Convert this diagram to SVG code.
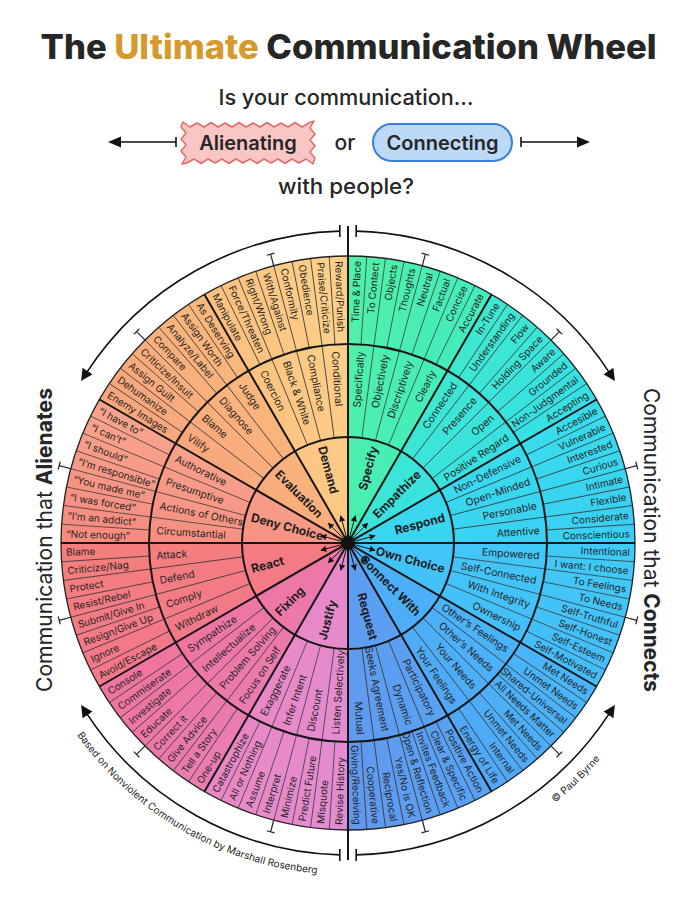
<svg xmlns="http://www.w3.org/2000/svg" width="697" height="900" viewBox="0 0 697 900">
<style>
text{font-family:Inter,"Liberation Sans",Arial,sans-serif;fill:#262626}
.o{font-size:10px}
.m{font-size:10.3px}
.i{font-size:12px;font-weight:700;fill:#1e1e1e}
.e{text-anchor:end}
.sep{stroke:#3a3a3a;stroke-width:0.8;fill:none}
.thick{stroke:#161616;stroke-width:2;fill:none}
.arc{stroke:#111;stroke-width:1.6;fill:none}
.tk{stroke:#222;stroke-width:1.2;fill:none}
.hd{font-size:21px}
</style>
<defs>
<path id="wedge" d="M0,0 L287,0 A287,287 0 0 1 248.55,143.5 Z"/>
<path id="seps" d="M198.57,13.02L286.39,18.77M197.30,25.97L284.54,37.46M195.18,38.82L281.49,55.99M192.22,51.51L277.22,74.28M188.44,63.97L271.77,92.25M183.85,76.15L265.15,109.83M178.48,88.02L257.40,126.94M105.09,13.84L197.30,25.97M102.39,27.43L192.22,51.51M97.93,40.56L183.85,76.15"/>
<path id="tick" d="M287,0H299M299,-4V4"/>
<linearGradient id="gSpe" gradientUnits="userSpaceOnUse" x1="200" y1="0" x2="173.2" y2="100"><stop offset="0" stop-color="#4FF0A8"/><stop offset="1" stop-color="#45ECBC"/></linearGradient>
<linearGradient id="gEmp" gradientUnits="userSpaceOnUse" x1="200" y1="0" x2="173.2" y2="100"><stop offset="0" stop-color="#3EE8D0"/><stop offset="1" stop-color="#36E0E4"/></linearGradient>
<linearGradient id="gRes" gradientUnits="userSpaceOnUse" x1="200" y1="0" x2="173.2" y2="100"><stop offset="0" stop-color="#38DCEC"/><stop offset="1" stop-color="#3ACFF4"/></linearGradient>
<linearGradient id="gOwn" gradientUnits="userSpaceOnUse" x1="200" y1="0" x2="173.2" y2="100"><stop offset="0" stop-color="#40CAF8"/><stop offset="1" stop-color="#45BDF9"/></linearGradient>
<linearGradient id="gCon" gradientUnits="userSpaceOnUse" x1="200" y1="0" x2="173.2" y2="100"><stop offset="0" stop-color="#49B5F9"/><stop offset="1" stop-color="#50A8F6"/></linearGradient>
<linearGradient id="gReq" gradientUnits="userSpaceOnUse" x1="200" y1="0" x2="173.2" y2="100"><stop offset="0" stop-color="#58A2F4"/><stop offset="1" stop-color="#6199EF"/></linearGradient>
<linearGradient id="gJus" gradientUnits="userSpaceOnUse" x1="200" y1="0" x2="173.2" y2="100"><stop offset="0" stop-color="#E48CD2"/><stop offset="1" stop-color="#E987C4"/></linearGradient>
<linearGradient id="gFix" gradientUnits="userSpaceOnUse" x1="200" y1="0" x2="173.2" y2="100"><stop offset="0" stop-color="#EA7CB0"/><stop offset="1" stop-color="#EF74A0"/></linearGradient>
<linearGradient id="gRea" gradientUnits="userSpaceOnUse" x1="200" y1="0" x2="173.2" y2="100"><stop offset="0" stop-color="#F3788A"/><stop offset="1" stop-color="#F57E7C"/></linearGradient>
<linearGradient id="gDen" gradientUnits="userSpaceOnUse" x1="200" y1="0" x2="173.2" y2="100"><stop offset="0" stop-color="#F68C80"/><stop offset="1" stop-color="#F8A28B"/></linearGradient>
<linearGradient id="gEva" gradientUnits="userSpaceOnUse" x1="200" y1="0" x2="173.2" y2="100"><stop offset="0" stop-color="#F8A67C"/><stop offset="1" stop-color="#FAB87D"/></linearGradient>
<linearGradient id="gDem" gradientUnits="userSpaceOnUse" x1="200" y1="0" x2="173.2" y2="100"><stop offset="0" stop-color="#FBC27F"/><stop offset="1" stop-color="#FDD08A"/></linearGradient>
<marker id="ah" viewBox="0 0 10 10" refX="2" refY="5" markerWidth="12" markerHeight="12" markerUnits="userSpaceOnUse" orient="auto"><path d="M0,0 L10,5 L0,10 z" fill="#111"/></marker>
<marker id="hub" viewBox="0 0 10 10" refX="9" refY="5" markerWidth="6" markerHeight="6" markerUnits="userSpaceOnUse" orient="auto"><path d="M0,0 L10,5 L0,10 z" fill="#111"/></marker>
</defs>
<rect width="697" height="900" fill="#fff"/>

<g id="header">
<text x="348.5" y="59" text-anchor="middle" font-size="34" font-weight="800" textLength="616" lengthAdjust="spacingAndGlyphs" fill="#111">The <tspan fill="#D49A2E">Ultimate</tspan> Communication Wheel</text>
<text class="hd" x="346" y="105" text-anchor="middle" textLength="255" lengthAdjust="spacingAndGlyphs" font-weight="500" fill="#111">Is your communication…</text>
<text class="hd" x="346" y="194" text-anchor="middle" textLength="136" lengthAdjust="spacingAndGlyphs" font-weight="500" fill="#111">with people?</text>
</g>

<g id="alienating">
<polygon points="183,122 190,127 197,123 204,127 211,122.5 218,127 225,123 232,127 239,122.5 246,127 253,123 260,127 267,122.5 274,127 281,123 288,127 295,122.5 302,127 309,123 314,121 310,128 315,134 310,140 315,146 310,152 315,158 313,164 306,159 299,163 292,159 285,163.5 278,159 271,163 264,159 257,163.5 250,159 243,163 236,159 229,163.5 222,159 215,163 208,159 201,163.5 194,159 187,163 182,164 186,157 181,151 186,145 181,139 186,133 181,127" fill="#F9C5C5" stroke="#E46A6A" stroke-width="1.5" stroke-linejoin="round"/>
<text x="248" y="150" text-anchor="middle" font-size="20" font-weight="600" fill="#111">Alienating</text>
</g>
<g id="or"><text class="hd" x="345" y="150" text-anchor="middle" font-weight="500" fill="#111">or</text></g>
<g id="connecting">
<rect x="373" y="124" width="139" height="37" rx="18.5" fill="#BDD9F8" stroke="#3E80D8" stroke-width="2"/>
<text x="442.5" y="150" text-anchor="middle" font-size="20" font-weight="600" fill="#111">Connecting</text>
</g>

<g id="n-specify" transform="translate(348,543)">
<use href="#wedge" fill="url(#gSpe)" transform="rotate(-90)"/>
<use href="#seps" class="sep" transform="rotate(-90)"/>
<text class="o e" transform="rotate(-88.125)" x="282" y="3.6">Time &amp; Place</text>
<text class="o e" transform="rotate(-84.375)" x="282" y="3.6">To Contect</text>
<text class="o e" transform="rotate(-80.625)" x="282" y="3.6">Objects</text>
<text class="o e" transform="rotate(-76.875)" x="282" y="3.6">Thoughts</text>
<text class="o e" transform="rotate(-73.125)" x="282" y="3.6">Neutral</text>
<text class="o e" transform="rotate(-69.375)" x="282" y="3.6">Factual</text>
<text class="o e" transform="rotate(-65.625)" x="282" y="3.6">Concise</text>
<text class="o e" transform="rotate(-61.875)" x="282" y="3.6">Accurate</text>
<text class="m e" transform="rotate(-86.25)" x="192" y="3.7">Specifically</text>
<text class="m e" transform="rotate(-78.75)" x="192" y="3.7">Objectively</text>
<text class="m e" transform="rotate(-71.25)" x="192" y="3.7">Discriptively</text>
<text class="m e" transform="rotate(-63.75)" x="192" y="3.7">Clearly</text>
<text class="i e" transform="rotate(-75)" x="100" y="4.3">Specify</text>
</g>

<g id="n-empathize" transform="translate(348,543)">
<use href="#wedge" fill="url(#gEmp)" transform="rotate(-60)"/>
<use href="#seps" class="sep" transform="rotate(-60)"/>
<text class="o e" transform="rotate(-58.125)" x="282" y="3.6">In-Tune</text>
<text class="o e" transform="rotate(-54.375)" x="282" y="3.6">Understanding</text>
<text class="o e" transform="rotate(-50.625)" x="282" y="3.6">Flow</text>
<text class="o e" transform="rotate(-46.875)" x="282" y="3.6">Holding Space</text>
<text class="o e" transform="rotate(-43.125)" x="282" y="3.6">Aware</text>
<text class="o e" transform="rotate(-39.375)" x="282" y="3.6">Grounded</text>
<text class="o e" transform="rotate(-35.625)" x="282" y="3.6">Non-Judgmental</text>
<text class="o e" transform="rotate(-31.875)" x="282" y="3.6">Accepting</text>
<text class="m e" transform="rotate(-56.25)" x="192" y="3.7">Connected</text>
<text class="m e" transform="rotate(-48.75)" x="192" y="3.7">Presence</text>
<text class="m e" transform="rotate(-41.25)" x="192" y="3.7">Open</text>
<text class="m e" transform="rotate(-33.75)" x="192" y="3.7">Positive Regard</text>
<text class="i e" transform="rotate(-45)" x="100" y="4.3">Empathize</text>
</g>

<g id="n-respond" transform="translate(348,543)">
<use href="#wedge" fill="url(#gRes)" transform="rotate(-30)"/>
<use href="#seps" class="sep" transform="rotate(-30)"/>
<text class="o e" transform="rotate(-28.125)" x="282" y="3.6">Accesible</text>
<text class="o e" transform="rotate(-24.375)" x="282" y="3.6">Vulnerable</text>
<text class="o e" transform="rotate(-20.625)" x="282" y="3.6">Interested</text>
<text class="o e" transform="rotate(-16.875)" x="282" y="3.6">Curious</text>
<text class="o e" transform="rotate(-13.125)" x="282" y="3.6">Intimate</text>
<text class="o e" transform="rotate(-9.375)" x="282" y="3.6">Flexible</text>
<text class="o e" transform="rotate(-5.625)" x="282" y="3.6">Considerate</text>
<text class="o e" transform="rotate(-1.875)" x="282" y="3.6">Conscientious</text>
<text class="m e" transform="rotate(-26.25)" x="192" y="3.7">Non-Defensive</text>
<text class="m e" transform="rotate(-18.75)" x="192" y="3.7">Open-Minded</text>
<text class="m e" transform="rotate(-11.25)" x="192" y="3.7">Personable</text>
<text class="m e" transform="rotate(-3.75)" x="192" y="3.7">Attentive</text>
<text class="i e" transform="rotate(-15)" x="100" y="4.3">Respond</text>
</g>

<g id="n-own-choice" transform="translate(348,543)">
<use href="#wedge" fill="url(#gOwn)"/>
<use href="#seps" class="sep"/>
<text class="o e" transform="rotate(1.875)" x="282" y="3.6">Intentional</text>
<text class="o e" transform="rotate(5.625)" x="282" y="3.6">I want: I choose</text>
<text class="o e" transform="rotate(9.375)" x="282" y="3.6">To Feelings</text>
<text class="o e" transform="rotate(13.125)" x="282" y="3.6">To Needs</text>
<text class="o e" transform="rotate(16.875)" x="282" y="3.6">Self-Truthful</text>
<text class="o e" transform="rotate(20.625)" x="282" y="3.6">Self-Honest</text>
<text class="o e" transform="rotate(24.375)" x="282" y="3.6">Self-Esteem</text>
<text class="o e" transform="rotate(28.125)" x="282" y="3.6">Self-Motivated</text>
<text class="m e" transform="rotate(3.75)" x="192" y="3.7">Empowered</text>
<text class="m e" transform="rotate(11.25)" x="192" y="3.7">Self-Connected</text>
<text class="m e" transform="rotate(18.75)" x="192" y="3.7">With Integrity</text>
<text class="m e" transform="rotate(26.25)" x="192" y="3.7">Ownership</text>
<text class="i e" transform="rotate(15)" x="100" y="4.3">Own Choice</text>
</g>

<g id="n-connect-with" transform="translate(348,543)">
<use href="#wedge" fill="url(#gCon)" transform="rotate(30)"/>
<use href="#seps" class="sep" transform="rotate(30)"/>
<text class="o e" transform="rotate(31.875)" x="282" y="3.6">Met Needs</text>
<text class="o e" transform="rotate(35.625)" x="282" y="3.6">Unmet Needs</text>
<text class="o e" transform="rotate(39.375)" x="282" y="3.6">Shared-Universal</text>
<text class="o e" transform="rotate(43.125)" x="282" y="3.6">All Needs Matter</text>
<text class="o e" transform="rotate(46.875)" x="282" y="3.6">Met Needs</text>
<text class="o e" transform="rotate(50.625)" x="282" y="3.6">Unmet Needs</text>
<text class="o e" transform="rotate(54.375)" x="282" y="3.6">Internal</text>
<text class="o e" transform="rotate(58.125)" x="282" y="3.6">Energy of Life</text>
<text class="m e" transform="rotate(33.75)" x="192" y="3.7">Other’s Feelings</text>
<text class="m e" transform="rotate(41.25)" x="192" y="3.7">Other’s Needs</text>
<text class="m e" transform="rotate(48.75)" x="192" y="3.7">Your Needs</text>
<text class="m e" transform="rotate(56.25)" x="192" y="3.7">Your Feelings</text>
<text class="i e" transform="rotate(45)" x="100" y="4.3">Connect With</text>
</g>

<g id="n-request" transform="translate(348,543)">
<use href="#wedge" fill="url(#gReq)" transform="rotate(60)"/>
<use href="#seps" class="sep" transform="rotate(60)"/>
<text class="o e" transform="rotate(61.875)" x="282" y="3.6">Positive Action</text>
<text class="o e" transform="rotate(65.625)" x="282" y="3.6">Clear &amp; Specific</text>
<text class="o e" transform="rotate(69.375)" x="282" y="3.6">Invites Feedback</text>
<text class="o e" transform="rotate(73.125)" x="282" y="3.6">Open &amp; Reflection</text>
<text class="o e" transform="rotate(76.875)" x="282" y="3.6">Yes/No is OK</text>
<text class="o e" transform="rotate(80.625)" x="282" y="3.6">Reciprocal</text>
<text class="o e" transform="rotate(84.375)" x="282" y="3.6">Cooperative</text>
<text class="o e" transform="rotate(88.125)" x="282" y="3.6">Giving/Receiving</text>
<text class="m e" transform="rotate(63.75)" x="192" y="3.7">Participatory</text>
<text class="m e" transform="rotate(71.25)" x="192" y="3.7">Dynamic</text>
<text class="m e" transform="rotate(78.75)" x="192" y="3.7">Seeks Agreement</text>
<text class="m e" transform="rotate(86.25)" x="192" y="3.7">Mutual</text>
<text class="i e" transform="rotate(75)" x="100" y="4.3">Request</text>
</g>

<g id="n-justify" transform="translate(348,543)">
<use href="#wedge" fill="url(#gJus)" transform="rotate(90)"/>
<use href="#seps" class="sep" transform="rotate(90)"/>
<text class="o" transform="rotate(-61.875)" x="-282" y="3.6">Catastrophize</text>
<text class="o" transform="rotate(-65.625)" x="-282" y="3.6">All or Nothing</text>
<text class="o" transform="rotate(-69.375)" x="-282" y="3.6">Assume</text>
<text class="o" transform="rotate(-73.125)" x="-282" y="3.6">Interpret</text>
<text class="o" transform="rotate(-76.875)" x="-282" y="3.6">Minimize</text>
<text class="o" transform="rotate(-80.625)" x="-282" y="3.6">Predict Future</text>
<text class="o" transform="rotate(-84.375)" x="-282" y="3.6">Misquote</text>
<text class="o" transform="rotate(-88.125)" x="-282" y="3.6">Revise History</text>
<text class="m" transform="rotate(-63.75)" x="-192" y="3.7">Exaggerate</text>
<text class="m" transform="rotate(-71.25)" x="-192" y="3.7">Infer Intent</text>
<text class="m" transform="rotate(-78.75)" x="-192" y="3.7">Discount</text>
<text class="m" transform="rotate(-86.25)" x="-192" y="3.7">Listen Selectively</text>
<text class="i" transform="rotate(-75)" x="-100" y="4.3">Justify</text>
</g>

<g id="n-fixing" transform="translate(348,543)">
<use href="#wedge" fill="url(#gFix)" transform="rotate(120)"/>
<use href="#seps" class="sep" transform="rotate(120)"/>
<text class="o" transform="rotate(-31.875)" x="-282" y="3.6">Console</text>
<text class="o" transform="rotate(-35.625)" x="-282" y="3.6">Commiserate</text>
<text class="o" transform="rotate(-39.375)" x="-282" y="3.6">Investigate</text>
<text class="o" transform="rotate(-43.125)" x="-282" y="3.6">Educate</text>
<text class="o" transform="rotate(-46.875)" x="-282" y="3.6">Correct it</text>
<text class="o" transform="rotate(-50.625)" x="-282" y="3.6">Give Advice</text>
<text class="o" transform="rotate(-54.375)" x="-282" y="3.6">Tell a Story</text>
<text class="o" transform="rotate(-58.125)" x="-282" y="3.6">One-up</text>
<text class="m" transform="rotate(-33.75)" x="-192" y="3.7">Sympathize</text>
<text class="m" transform="rotate(-41.25)" x="-192" y="3.7">Intellectualize</text>
<text class="m" transform="rotate(-48.75)" x="-192" y="3.7">Problem Solving</text>
<text class="m" transform="rotate(-56.25)" x="-192" y="3.7">Focus on Self</text>
<text class="i" transform="rotate(-45)" x="-100" y="4.3">Fixing</text>
</g>

<g id="n-react" transform="translate(348,543)">
<use href="#wedge" fill="url(#gRea)" transform="rotate(150)"/>
<use href="#seps" class="sep" transform="rotate(150)"/>
<text class="o" transform="rotate(-1.875)" x="-282" y="3.6">Blame</text>
<text class="o" transform="rotate(-5.625)" x="-282" y="3.6">Criticize/Nag</text>
<text class="o" transform="rotate(-9.375)" x="-282" y="3.6">Protect</text>
<text class="o" transform="rotate(-13.125)" x="-282" y="3.6">Resist/Rebel</text>
<text class="o" transform="rotate(-16.875)" x="-282" y="3.6">Submit/Give In</text>
<text class="o" transform="rotate(-20.625)" x="-282" y="3.6">Resign/Give Up</text>
<text class="o" transform="rotate(-24.375)" x="-282" y="3.6">Ignore</text>
<text class="o" transform="rotate(-28.125)" x="-282" y="3.6">Avoid/Escape</text>
<text class="m" transform="rotate(-3.75)" x="-192" y="3.7">Attack</text>
<text class="m" transform="rotate(-11.25)" x="-192" y="3.7">Defend</text>
<text class="m" transform="rotate(-18.75)" x="-192" y="3.7">Comply</text>
<text class="m" transform="rotate(-26.25)" x="-192" y="3.7">Withdraw</text>
<text class="i" transform="rotate(-15)" x="-100" y="4.3">React</text>
</g>

<g id="n-deny-choice" transform="translate(348,543)">
<use href="#wedge" fill="url(#gDen)" transform="rotate(180)"/>
<use href="#seps" class="sep" transform="rotate(180)"/>
<text class="o" transform="rotate(28.125)" x="-282" y="3.6">“I have to”</text>
<text class="o" transform="rotate(24.375)" x="-282" y="3.6">“I can’t”</text>
<text class="o" transform="rotate(20.625)" x="-282" y="3.6">“I should”</text>
<text class="o" transform="rotate(16.875)" x="-282" y="3.6">“I’m responsible”</text>
<text class="o" transform="rotate(13.125)" x="-282" y="3.6">“You made me”</text>
<text class="o" transform="rotate(9.375)" x="-282" y="3.6">“I was forced”</text>
<text class="o" transform="rotate(5.625)" x="-282" y="3.6">“I’m an addict”</text>
<text class="o" transform="rotate(1.875)" x="-282" y="3.6">“Not enough”</text>
<text class="m" transform="rotate(26.25)" x="-192" y="3.7">Authorative</text>
<text class="m" transform="rotate(18.75)" x="-192" y="3.7">Presumptive</text>
<text class="m" transform="rotate(11.25)" x="-192" y="3.7">Actions of Others</text>
<text class="m" transform="rotate(3.75)" x="-192" y="3.7">Circumstantial</text>
<text class="i" transform="rotate(15)" x="-100" y="4.3">Deny Choice</text>
</g>

<g id="n-evaluation" transform="translate(348,543)">
<use href="#wedge" fill="url(#gEva)" transform="rotate(210)"/>
<use href="#seps" class="sep" transform="rotate(210)"/>
<text class="o" transform="rotate(58.125)" x="-282" y="3.6">As Deserving</text>
<text class="o" transform="rotate(54.375)" x="-282" y="3.6">Assign Worth</text>
<text class="o" transform="rotate(50.625)" x="-282" y="3.6">Analyze/Label</text>
<text class="o" transform="rotate(46.875)" x="-282" y="3.6">Compare</text>
<text class="o" transform="rotate(43.125)" x="-282" y="3.6">Criticize/Insult</text>
<text class="o" transform="rotate(39.375)" x="-282" y="3.6">Assign Guilt</text>
<text class="o" transform="rotate(35.625)" x="-282" y="3.6">Dehumanize</text>
<text class="o" transform="rotate(31.875)" x="-282" y="3.6">Enemy Images</text>
<text class="m" transform="rotate(56.25)" x="-192" y="3.7">Judge</text>
<text class="m" transform="rotate(48.75)" x="-192" y="3.7">Diagnose</text>
<text class="m" transform="rotate(41.25)" x="-192" y="3.7">Blame</text>
<text class="m" transform="rotate(33.75)" x="-192" y="3.7">Vilify</text>
<text class="i" transform="rotate(45)" x="-100" y="4.3">Evaluation</text>
</g>

<g id="n-demand" transform="translate(348,543)">
<use href="#wedge" fill="url(#gDem)" transform="rotate(240)"/>
<use href="#seps" class="sep" transform="rotate(240)"/>
<text class="o" transform="rotate(88.125)" x="-282" y="3.6">Reward/Punish</text>
<text class="o" transform="rotate(84.375)" x="-282" y="3.6">Praise/Criticize</text>
<text class="o" transform="rotate(80.625)" x="-282" y="3.6">Obedience</text>
<text class="o" transform="rotate(76.875)" x="-282" y="3.6">Conformity</text>
<text class="o" transform="rotate(73.125)" x="-282" y="3.6">With/Against</text>
<text class="o" transform="rotate(69.375)" x="-282" y="3.6">Right/Wrong</text>
<text class="o" transform="rotate(65.625)" x="-282" y="3.6">Force/Threaten</text>
<text class="o" transform="rotate(61.875)" x="-282" y="3.6">Manipulate</text>
<text class="m" transform="rotate(86.25)" x="-192" y="3.7">Conditional</text>
<text class="m" transform="rotate(78.75)" x="-192" y="3.7">Compliance</text>
<text class="m" transform="rotate(71.25)" x="-192" y="3.7">Black &amp; White</text>
<text class="m" transform="rotate(63.75)" x="-192" y="3.7">Coercion</text>
<text class="i" transform="rotate(75)" x="-100" y="4.3">Demand</text>
</g>

<g id="wheel-lines" transform="translate(348,543)">
<circle r="287" fill="none" stroke="#222" stroke-width="1.3"/>
<circle r="199" class="thick"/>
<circle r="106" class="thick"/>
<line x1="-287" y1="0" x2="287" y2="0" class="thick"/>
<line x1="-287" y1="0" x2="287" y2="0" class="thick" transform="rotate(30)"/>
<line x1="-287" y1="0" x2="287" y2="0" class="thick" transform="rotate(60)"/>
<line x1="-287" y1="0" x2="287" y2="0" class="thick" transform="rotate(120)"/>
<line x1="-287" y1="0" x2="287" y2="0" class="thick" transform="rotate(150)"/>
<line x1="0" y1="-317" x2="0" y2="317" class="thick"/>
<g class="tk">
<use href="#tick" transform="rotate(-75)"/><use href="#tick" transform="rotate(-45)"/><use href="#tick" transform="rotate(-15)"/>
<use href="#tick" transform="rotate(15)"/><use href="#tick" transform="rotate(45)"/><use href="#tick" transform="rotate(75)"/>
<use href="#tick" transform="rotate(105)"/><use href="#tick" transform="rotate(135)"/><use href="#tick" transform="rotate(165)"/>
<use href="#tick" transform="rotate(195)"/><use href="#tick" transform="rotate(225)"/><use href="#tick" transform="rotate(255)"/>
</g>
<g stroke="#111" stroke-width="0.9" marker-end="url(#hub)">
<line x1="6" y1="0" x2="28" y2="0" transform="rotate(-75)"/><line x1="6" y1="0" x2="28" y2="0" transform="rotate(-45)"/><line x1="6" y1="0" x2="28" y2="0" transform="rotate(-15)"/>
<line x1="6" y1="0" x2="28" y2="0" transform="rotate(15)"/><line x1="6" y1="0" x2="28" y2="0" transform="rotate(45)"/><line x1="6" y1="0" x2="28" y2="0" transform="rotate(75)"/>
<line x1="6" y1="0" x2="28" y2="0" transform="rotate(105)"/><line x1="6" y1="0" x2="28" y2="0" transform="rotate(135)"/><line x1="6" y1="0" x2="28" y2="0" transform="rotate(165)"/>
<line x1="6" y1="0" x2="28" y2="0" transform="rotate(195)"/><line x1="6" y1="0" x2="28" y2="0" transform="rotate(225)"/><line x1="6" y1="0" x2="28" y2="0" transform="rotate(255)"/>
</g>
<circle r="7" fill="#111"/>
</g>

<g id="connectors">
<line x1="117" y1="142" x2="176" y2="142" class="arc"/>
<line x1="176" y1="137" x2="176" y2="147" class="arc"/>
<polygon points="108,142 121,136.5 121,147.5" fill="#111"/>
<line x1="521" y1="142" x2="580" y2="142" class="arc"/>
<line x1="521" y1="137" x2="521" y2="147" class="arc"/>
<polygon points="590,142 577,136.5 577,147.5" fill="#111"/>
<path class="arc" d="M339.83,231.11 A312,312 0 0 0 86.33,373.07" marker-end="url(#ah)"/>
<path class="arc" d="M339.83,854.89 A312,312 0 0 1 86.33,712.93" marker-end="url(#ah)"/>
<path class="arc" d="M356.17,231.11 A312,312 0 0 1 609.67,373.07" marker-end="url(#ah)"/>
<path class="arc" d="M356.17,854.89 A312,312 0 0 0 609.67,712.93" marker-end="url(#ah)"/>
<path class="arc" d="M339.8,225V237M356.2,225V237M339.8,849V861M356.2,849V861"/>
</g>

<g id="side-labels">
<text transform="translate(52,540) rotate(-90)" text-anchor="middle" font-size="22" textLength="304" lengthAdjust="spacingAndGlyphs" fill="#111">Communication that <tspan font-weight="700">Alienates</tspan></text>
<text transform="translate(644,540) rotate(90)" text-anchor="middle" font-size="22" textLength="304" lengthAdjust="spacingAndGlyphs" fill="#111">Communication that <tspan font-weight="700">Connects</tspan></text>
<path id="credit1" d="M66.45,718.93 A332,332 0 0 0 336.41,874.8" fill="none"/>
<path id="credit2" d="M503.86,836.14 A332,332 0 0 0 635.52,709" fill="none"/>
<text font-size="10" fill="#222"><textPath href="#credit1" startOffset="50%" text-anchor="middle">Based on Nonviolent Communication by Marshall Rosenberg</textPath></text>
<text font-size="10" fill="#222"><textPath href="#credit2" startOffset="50%" text-anchor="middle">© Paul Byrne</textPath></text>
</g>
</svg>
